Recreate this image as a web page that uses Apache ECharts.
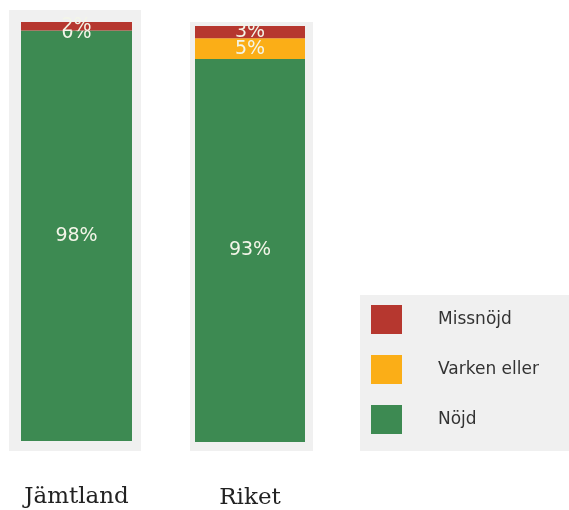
<!DOCTYPE html>
<html>
<head>
<meta charset="utf-8">
<script src="https://cdn.jsdelivr.net/npm/echarts@6/dist/echarts.min.js"></script>
<style>
  html, body { margin: 0; padding: 0; background: #fff; }
  #chart { width: 569px; height: 510px; }
</style>
</head>
<body>
<div id="chart"></div>
<script>
  // regioner och svarsandelar (%)
  var regions = ['Jämtland', 'Riket'];
  var nojd = [98, 93];
  var varken = [0, 5];
  var missnojd = [2, 3];

  var colors = { nojd: '#3d8a52', varken: '#fbae17', missnojd: '#b6372f' };

  var panels = [
    { bg: [9, 10, 132, 441], grid: { left: 21, top: 22, width: 111, height: 419 } },
    { bg: [190, 22, 123, 429], grid: { left: 195, top: 26, width: 110, height: 420 } }
  ];

  var chart = echarts.init(document.getElementById('chart'));

  var grids = [], xAxes = [], yAxes = [], series = [], graphics = [];
  panels.forEach(function (p, i) {
    graphics.push({
      type: 'rect', z: -10,
      shape: { x: p.bg[0], y: p.bg[1], width: p.bg[2], height: p.bg[3] },
      style: { fill: '#f0f0f0' }
    });
    grids.push(p.grid);
    xAxes.push({
      type: 'category', gridIndex: i, data: [regions[i]],
      axisLine: { show: false }, axisTick: { show: false },
      axisLabel: { margin: 45, fontFamily: 'DejaVu Serif', fontSize: 23, color: '#222' }
    });
    yAxes.push({
      type: 'value', gridIndex: i, min: 0,
      max: nojd[i] + varken[i] + missnojd[i], show: false
    });
    var parts = [['Nöjd', nojd, colors.nojd], ['Varken eller', varken, colors.varken], ['Missnöjd', missnojd, colors.missnojd]];
    parts.forEach(function (s, k) {
      series.push({
        name: s[0], type: 'bar', stack: 'p' + i,
        xAxisIndex: i, yAxisIndex: i,
        z: 2 + k,
        barWidth: '100%',
        data: [s[1][i]],
        itemStyle: { color: s[2] },
        label: {
          show: true, position: 'inside', formatter: '{c}%',
          offset: s[1][i] === 0 ? [0, 3] : [0, 0],
          color: '#f3f5e8', fontFamily: 'DejaVu Sans', fontSize: 19
        }
      });
    });
  });

  // legend bakgrund
  graphics.push({
    type: 'rect', z: -10,
    shape: { x: 360, y: 295, width: 215, height: 156 },
    style: { fill: '#f0f0f0' }
  });

  chart.setOption({
    animation: false,
    grid: grids,
    xAxis: xAxes,
    yAxis: yAxes,
    graphic: graphics,
    legend: {
      orient: 'vertical', left: 366, top: 300,
      data: ['Missnöjd', 'Varken eller', 'Nöjd'],
      icon: 'rect', itemWidth: 31, itemHeight: 29, itemGap: 21,
      textStyle: { fontFamily: 'DejaVu Sans', fontSize: 17, color: '#333', padding: [0, 0, 0, 31] }
    },
    series: series
  });
</script>
</body>
</html>
